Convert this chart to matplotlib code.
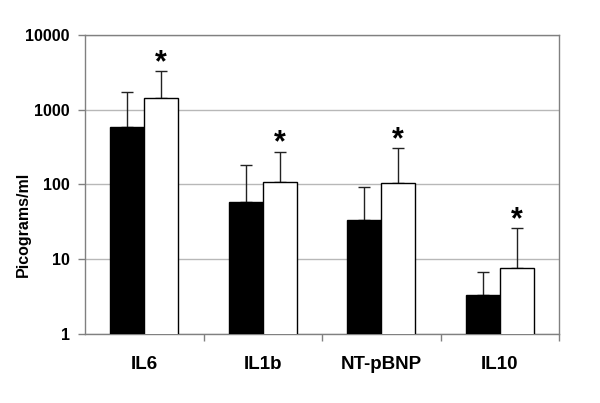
#!/usr/bin/env python3

# Imports

import numpy as np
import matplotlib
matplotlib.use("Agg")
import matplotlib.pyplot as plt

# Data

categories = ["IL6", "IL1b", "NT-pBNP", "IL10"]
black_vals = [582, 58, 33, 3.3]
black_err_top = [1740, 181, 92, 6.8]
white_vals = [1450, 107, 105, 7.7]
white_err_top = [3300, 275, 305, 26]
yticks = [1, 10, 100, 1000, 10000]

# Plot

plt.rcParams["font.family"] = ["Liberation Sans", "DejaVu Sans"]
plt.rcParams["font.weight"] = "bold"

fig = plt.figure(figsize=(6, 4.03), dpi=100)
ax = fig.add_axes([0.1417, 0.1712, 0.79, 0.742])

x = np.arange(len(categories))
w = 0.287

black_err = [np.zeros(len(x)), np.array(black_err_top) - np.array(black_vals)]
white_err = [np.zeros(len(x)), np.array(white_err_top) - np.array(white_vals)]

ax.bar(x - w / 2, black_vals, w, color="black", edgecolor="black", lw=1, zorder=3)
ax.bar(x + w / 2, white_vals, w, color="white", edgecolor="black", lw=1, zorder=3)
ax.errorbar(x - w / 2, black_vals, yerr=black_err, fmt="none", ecolor="#222222",
            elinewidth=1, capsize=4.5, capthick=1, zorder=2)
ax.errorbar(x + w / 2, white_vals, yerr=white_err, fmt="none", ecolor="#222222",
            elinewidth=1, capsize=4.5, capthick=1, zorder=2)

# asterisks above the white bars
for xi, top in zip(x, white_err_top):
    ax.annotate("*", (xi + w / 2, top), xytext=(0, 0), textcoords="offset points",
                ha="center", va="baseline", fontsize=22, fontweight="bold")

ax.set_yscale("log")
ax.set_ylim(1, 10000)
ax.set_xlim(-0.5, len(categories) - 0.5)
ax.set_yticks(yticks)
ax.set_yticklabels([str(t) for t in yticks], fontsize=11.5, fontweight="bold")
ax.yaxis.set_minor_locator(matplotlib.ticker.NullLocator())
ax.tick_params(axis="y", length=5, width=1, color="#808080", pad=6)

ax.set_xticks(x)
ax.set_xticklabels(categories, fontsize=13.5, fontweight="bold")
ax.tick_params(axis="x", which="major", length=0, pad=16)
ax.set_xticks(np.arange(len(categories)) + 0.5, minor=True)
ax.tick_params(axis="x", which="minor", length=5, width=1, color="#808080")

ax.yaxis.grid(True, which="major", color="#b8b8b8", lw=1)
ax.set_axisbelow(True)
for s in ax.spines.values():
    s.set_color("#808080")
    s.set_linewidth(1)

ax.text(-0.131, 0.365, "Picograms/ml", transform=ax.transAxes, rotation=90,
        ha="center", va="center", fontsize=11.5, fontweight="bold")

fig.savefig("out.png", dpi=100)
